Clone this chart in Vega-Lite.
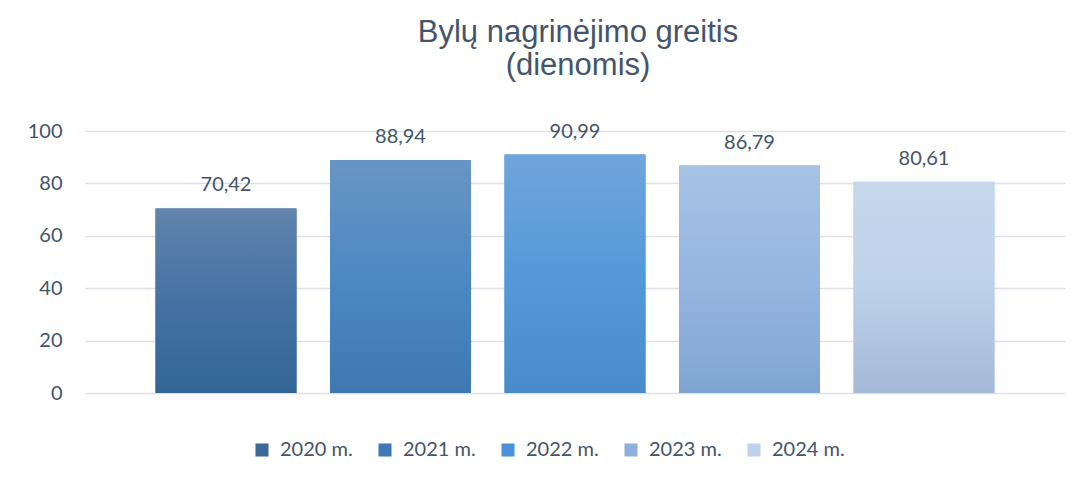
{
  "$schema": "https://vega.github.io/schema/vega-lite/v6.json",
  "autosize": {"type": "none"},
  "padding": {"left": 85, "top": 131, "right": 21, "bottom": 88},
  "width": 980,
  "height": 262,
  "background": "#ffffff",
  "title": {
    "text": ["Bylų nagrinėjimo greitis", "(dienomis)"],
    "font": "Liberation Sans",
    "fontSize": 31,
    "fontWeight": "normal",
    "color": "#44546A",
    "lineHeight": 33,
    "anchor": "middle",
    "dx": 3,
    "offset": 39
  },
  "data": {
    "values": [
      {"year": "2020 m.", "value": 70.42},
      {"year": "2021 m.", "value": 88.94},
      {"year": "2022 m.", "value": 90.99},
      {"year": "2023 m.", "value": 86.79},
      {"year": "2024 m.", "value": 80.61}
    ]
  },
  "encoding": {
    "x": {
      "field": "year",
      "type": "nominal",
      "sort": null,
      "scale": {"paddingInner": 0.192, "paddingOuter": 0.404},
      "axis": null
    },
    "y": {
      "field": "value",
      "type": "quantitative",
      "scale": {"domain": [0, 100], "nice": false},
      "axis": {
        "title": null,
        "values": [0, 20, 40, 60, 80, 100],
        "domain": false,
        "ticks": false,
        "labelPadding": 23,
        "labelFont": "Lato",
        "labelFontSize": 20,
        "labelColor": "#44546A",
        "gridColor": "#DDE1E6",
        "gridWidth": 1.5
      }
    }
  },
  "layer": [
    {
      "mark": {"type": "bar"},
      "encoding": {
        "color": {
          "field": "year",
          "type": "nominal",
          "sort": null,
          "scale": {
            "domain": ["2020 m.", "2021 m.", "2022 m.", "2023 m.", "2024 m."],
            "range": ["#3C6998", "#4079B7", "#4A93D8", "#8FB0DC", "#BFD1EA"]
          },
          "legend": {
            "title": null,
            "orient": "none",
            "legendX": 167,
            "legendY": 309,
            "padding": 0,
            "direction": "horizontal",
            "columns": 5,
            "symbolType": "square",
            "symbolSize": 170,
            "symbolStrokeWidth": 0,
            "labelFont": "Lato",
            "labelFontSize": 20,
            "labelColor": "#44546A",
            "labelOffset": 8,
            "columnPadding": 22
          }
        }
      }
    },
    {
      "mark": {"type": "bar"},
      "encoding": {
        "fill": {
          "condition": [
            {"test": "datum.year === '2020 m.'", "value": {"gradient": "linear", "x1": 0, "y1": 0, "x2": 0, "y2": 1, "stops": [{"offset": 0, "color": "#6283AD"}, {"offset": 0.5, "color": "#4572A4"}, {"offset": 1, "color": "#336597"}]}},
            {"test": "datum.year === '2021 m.'", "value": {"gradient": "linear", "x1": 0, "y1": 0, "x2": 0, "y2": 1, "stops": [{"offset": 0, "color": "#6895C4"}, {"offset": 0.5, "color": "#4D89C3"}, {"offset": 1, "color": "#3D78B1"}]}},
            {"test": "datum.year === '2022 m.'", "value": {"gradient": "linear", "x1": 0, "y1": 0, "x2": 0, "y2": 1, "stops": [{"offset": 0, "color": "#6FA5DC"}, {"offset": 0.5, "color": "#5599DA"}, {"offset": 1, "color": "#498BCA"}]}},
            {"test": "datum.year === '2023 m.'", "value": {"gradient": "linear", "x1": 0, "y1": 0, "x2": 0, "y2": 1, "stops": [{"offset": 0, "color": "#A7C2E5"}, {"offset": 0.5, "color": "#95B6E1"}, {"offset": 1, "color": "#80A4D1"}]}}
          ],
          "value": {"gradient": "linear", "x1": 0, "y1": 0, "x2": 0, "y2": 1, "stops": [{"offset": 0, "color": "#C7D8ED"}, {"offset": 0.5, "color": "#BDD1EA"}, {"offset": 1, "color": "#A5B9D8"}]}
        }
      }
    },
    {
      "mark": {
        "type": "text",
        "baseline": "alphabetic",
        "dy": -17,
        "font": "Lato",
        "fontSize": 20,
        "color": "#44546A"
      },
      "encoding": {
        "text": {"field": "value", "type": "quantitative", "format": ".2f"}
      }
    }
  ],
  "config": {
    "view": {"stroke": null},
    "locale": {
      "number": {"decimal": ",", "thousands": " ", "grouping": [3], "currency": ["", " €"]}
    }
  }
}
